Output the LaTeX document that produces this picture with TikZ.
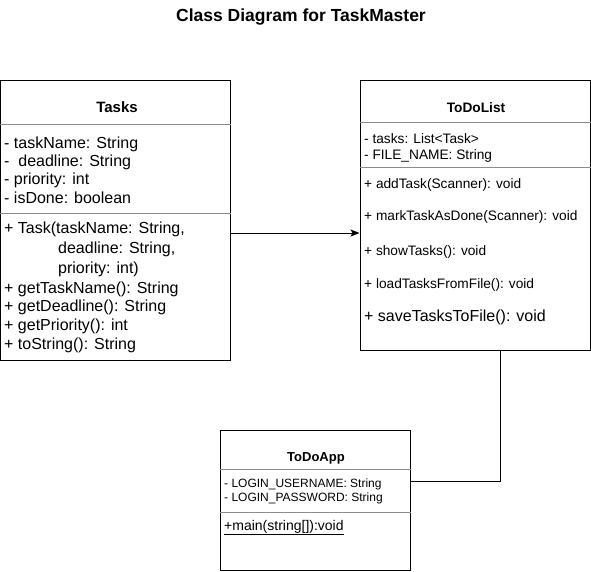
\documentclass[tikz,border=0pt]{standalone}
\usepackage{fontspec}
\setmainfont{Liberation Sans}
\usetikzlibrary{arrows.meta}
\begin{document}
\begin{tikzpicture}[x=1pt,y=-1pt,
  box/.style={draw=black,line width=1pt,fill=white,minimum width=#1,inner sep=0pt},
  divider/.style={draw=black!45,line width=1pt},
  txt/.style={anchor=base west,inner sep=0pt,font=\fontsize{#1}{#1}\selectfont},
  ttl/.style={anchor=base,inner sep=0pt,font=\fontsize{#1}{#1}\selectfont\bfseries},
  link/.style={draw=black,line width=1pt}]
\useasboundingbox (0,0) rectangle (591,571);
\node[ttl=17.5] (title) at (301,21) {Class Diagram for TaskMaster};
% boxes
\node[box=229.5pt,minimum height=280pt] (tasks) at (115.25,220) {};
\node[box=230pt,minimum height=269.5pt] (todolist) at (475,215.25) {};
\node[box=190pt,minimum height=140pt] (todoapp) at (315,500) {};
% dividers
\draw[divider] (tasks.west |- 0,124) -- (tasks.east |- 0,124);
\draw[divider] (tasks.west |- 0,213) -- (tasks.east |- 0,213);
\draw[divider] (todolist.west |- 0,122) -- (todolist.east |- 0,122);
\draw[divider] (todolist.west |- 0,167) -- (todolist.east |- 0,167);
\draw[divider] (todoapp.west |- 0,469) -- (todoapp.east |- 0,469);
\draw[divider] (todoapp.west |- 0,512) -- (todoapp.east |- 0,512);
% Tasks
\node[ttl=15] (tasksname) at (117,112) {Tasks};
\node[txt=16] (ta1) at (4,148) {- taskName: String};
\node[txt=16] (ta2) at (4,166) {-\ \ deadline: String};
\node[txt=16] (ta3) at (4,184) {- priority: int};
\node[txt=16] (ta4) at (4,203) {- isDone: boolean};
\node[txt=16] (tm1) at (4,233) {+ Task(taskName: String,};
\node[txt=16] (tm2) at (58,253) {deadline: String,};
\node[txt=16] (tm3) at (58,273) {priority: int)};
\node[txt=16] (tm4) at (4,293) {+ getTaskName(): String};
\node[txt=16] (tm5) at (4,311) {+ getDeadline(): String};
\node[txt=16] (tm6) at (4,330) {+ getPriority(): int};
\node[txt=16] (tm7) at (4,349) {+ toString(): String};
% ToDoList
\node[ttl=13.7] (todolistname) at (476,112) {ToDoList};
\node[txt=13.7] (la1) at (364,143) {- tasks: List<Task>};
\node[txt=13.7] (la2) at (364,159) {- FILE\_NAME: String};
\node[txt=13.7] (lm1) at (364,188) {+ addTask(Scanner): void};
\node[txt=13.7] (lm2) at (364,220) {+ markTaskAsDone(Scanner): void};
\node[txt=13.7] (lm3) at (364,255) {+ showTasks(): void};
\node[txt=13.7] (lm4) at (364,288) {+ loadTasksFromFile(): void};
\node[txt=16] (lm5) at (364,321) {+ saveTasksToFile(): void};
% ToDoApp
\node[ttl=13] (todoappname) at (316,461.5) {ToDoApp};
\node[txt=12] (aa1) at (224,487) {- LOGIN\_USERNAME: String};
\node[txt=12] (aa2) at (224,501) {- LOGIN\_PASSWORD: String};
\node[txt=14] (am1) at (224,530) {\underline{+main(string[]):void}};
% connectors
\draw[link,-{Stealth[length=9pt,width=7pt,inset=2pt]}] (tasks.east |- 0,233) -- (todolist.west |- 0,233);
\coordinate (bend) at (500.5,481);
\draw[link] (todolist.south -| bend) -- (bend) -- (todoapp.east |- bend);
\end{tikzpicture}
\end{document}
